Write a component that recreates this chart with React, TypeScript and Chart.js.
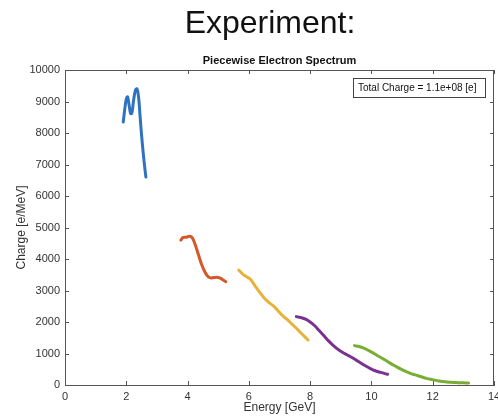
import React, { useEffect, useRef } from "react";
import { Chart, registerables } from "chart.js";

Chart.register(...registerables);

const blueX = [1.9, 1.95, 2.0, 2.04, 2.09, 2.14, 2.18, 2.24, 2.3, 2.35, 2.4, 2.46, 2.52, 2.58, 2.64];
const blueY = [8350, 8750, 9080, 9150, 8900, 8620, 8620, 9050, 9360, 9400, 9150, 8400, 7700, 7100, 6600];

const orangeX = [3.78, 3.85, 3.95, 4.05, 4.15, 4.25, 4.35, 4.45, 4.55, 4.65, 4.75, 4.85, 4.95, 5.05, 5.15, 5.25];
const orangeY = [4600, 4680, 4690, 4720, 4680, 4450, 4150, 3850, 3620, 3460, 3400, 3410, 3420, 3400, 3340, 3280];

const yellowX = [5.67, 5.8, 5.95, 6.05, 6.2, 6.35, 6.5, 6.65, 6.8, 6.95, 7.1, 7.25, 7.4, 7.55, 7.7, 7.93];
const yellowY = [3650, 3520, 3420, 3360, 3150, 2950, 2760, 2620, 2510, 2360, 2200, 2080, 1940, 1800, 1650, 1430];

const purpleX = [7.55, 7.7, 7.85, 8.0, 8.15, 8.3, 8.45, 8.6, 8.75, 8.9, 9.05, 9.2, 9.35, 9.5, 9.65, 9.8, 9.95, 10.1, 10.3, 10.53];
const purpleY = [2170, 2140, 2090, 2000, 1880, 1720, 1560, 1400, 1260, 1140, 1040, 960, 880, 790, 700, 610, 530, 460, 400, 340];

const greenX = [9.45, 9.6, 9.75, 9.9, 10.05, 10.2, 10.35, 10.5, 10.65, 10.8, 10.95, 11.1, 11.25, 11.4, 11.6, 11.8, 12.0, 12.2, 12.4, 12.6, 12.8, 13.0, 13.17];
const greenY = [1250, 1220, 1170, 1100, 1020, 930, 850, 760, 670, 590, 510, 440, 380, 330, 270, 210, 170, 130, 100, 85, 75, 68, 62];

const seriesColors = ["#2F72BD", "#D4582A", "#E8B23A", "#7B3190", "#79AE35"];

const xTicks = [0, 2, 4, 6, 8, 10, 12, 14];
const yTicks = [0, 1000, 2000, 3000, 4000, 5000, 6000, 7000, 8000, 9000, 10000];

const bigTitle = "Experiment:";
const chartTitle = "Piecewise Electron Spectrum";
const xLabel = "Energy [GeV]";
const yLabel = "Charge [e/MeV]";
const annotation = "Total Charge = 1.1e+08 [e]";

const FONT = "'Liberation Sans', Arial, Helvetica, sans-serif";

function pts(xs: number[], ys: number[]) {
  return xs.map((x, i) => ({ x, y: ys[i] }));
}

const decorPlugin = {
  id: "decor",
  afterDraw(chart: any) {
    const ctx = chart.ctx as CanvasRenderingContext2D;
    const { left, right, top, bottom } = chart.chartArea;
    const xs = chart.scales.x;
    const ys = chart.scales.y;
    ctx.save();
    ctx.strokeStyle = "#555";
    ctx.lineWidth = 1;
    ctx.beginPath();
    ctx.moveTo(left + 0.5, top + 0.5);
    ctx.lineTo(right - 0.5, top + 0.5);
    ctx.lineTo(right - 0.5, bottom);
    ctx.stroke();
    const tl = 4;
    ctx.beginPath();
    xTicks.forEach((v) => {
      const px = Math.round(xs.getPixelForValue(v)) + 0.5;
      ctx.moveTo(px, bottom);
      ctx.lineTo(px, bottom - tl);
      ctx.moveTo(px, top);
      ctx.lineTo(px, top + tl);
    });
    yTicks.forEach((v) => {
      const py = Math.round(ys.getPixelForValue(v)) + 0.5;
      ctx.moveTo(left, py);
      ctx.lineTo(left + tl, py);
      ctx.moveTo(right, py);
      ctx.lineTo(right - tl, py);
    });
    ctx.stroke();

    ctx.fillStyle = "#111";
    ctx.textAlign = "center";
    ctx.textBaseline = "middle";
    ctx.font = `32px ${FONT}`;
    ctx.fillText(bigTitle, 270, 24);
    ctx.font = `bold 11px ${FONT}`;
    ctx.fillText(chartTitle, (left + right) / 2, 61);

    ctx.fillStyle = "#333";
    ctx.font = `12px ${FONT}`;
    ctx.fillText(xLabel, (left + right) / 2, 408);
    ctx.save();
    ctx.translate(22, (top + bottom) / 2);
    ctx.rotate(-Math.PI / 2);
    ctx.fillText(yLabel, 0, 0);
    ctx.restore();

    ctx.fillStyle = "#fff";
    ctx.fillRect(353, 78, 132, 19);
    ctx.strokeStyle = "#444";
    ctx.strokeRect(353.5, 78.5, 132, 19);
    ctx.fillStyle = "#111";
    ctx.textAlign = "left";
    ctx.font = `10px ${FONT}`;
    ctx.fillText(annotation, 358, 88);
    ctx.restore();
  },
};

export default function App() {
  const ref = useRef<HTMLCanvasElement | null>(null);
  useEffect(() => {
    document.body.style.margin = "0";
    const mk = (xs: number[], ys: number[], c: string) => ({
      data: pts(xs, ys),
      borderColor: c,
      backgroundColor: c,
      borderWidth: 3,
      pointRadius: 0,
      tension: 0.4,
      fill: false,
      borderCapStyle: "round" as const,
      borderJoinStyle: "round" as const,
    });
    const chart = new Chart(ref.current as HTMLCanvasElement, {
      type: "line",
      data: {
        datasets: [
          mk(blueX, blueY, seriesColors[0]),
          mk(orangeX, orangeY, seriesColors[1]),
          mk(yellowX, yellowY, seriesColors[2]),
          mk(purpleX, purpleY, seriesColors[3]),
          mk(greenX, greenY, seriesColors[4]),
        ],
      },
      options: {
        responsive: false,
        animation: false,
        layout: { padding: { top: 70, right: 4, left: 0, bottom: 0 } },
        plugins: { legend: { display: false }, tooltip: { enabled: false }, title: { display: false } },
        scales: {
          x: {
            type: "linear",
            min: 0,
            max: 14,
            grid: { display: false, drawTicks: false, tickLength: 0 },
            border: { display: true, color: "#555", width: 1 },
            afterBuildTicks: (s: any) => {
              s.ticks = xTicks.map((v) => ({ value: v }));
            },
            ticks: { color: "#333", font: { family: FONT, size: 11 }, padding: 5, maxRotation: 0 },
            afterFit: (s: any) => {
              s.height = 32;
              s.paddingRight = 0;
              s.paddingLeft = 0;
            },
          },
          y: {
            type: "linear",
            min: 0,
            max: 10000,
            grid: { display: false, drawTicks: false, tickLength: 0 },
            border: { display: true, color: "#555", width: 1 },
            afterBuildTicks: (s: any) => {
              s.ticks = yTicks.map((v) => ({ value: v }));
            },
            ticks: { color: "#333", font: { family: FONT, size: 11 }, padding: 5, callback: (v: any) => String(v) },
            afterFit: (s: any) => {
              s.width = 65;
              s.paddingTop = 0;
              s.paddingBottom = 0;
            },
          },
        },
      },
      plugins: [decorPlugin],
    });
    return () => chart.destroy();
  }, []);
  return (
    <div style={{ position: "absolute", left: 0, top: 0, width: 498, height: 417, background: "#fff" }}>
      <canvas ref={ref} width={498} height={417} />
    </div>
  );
}
